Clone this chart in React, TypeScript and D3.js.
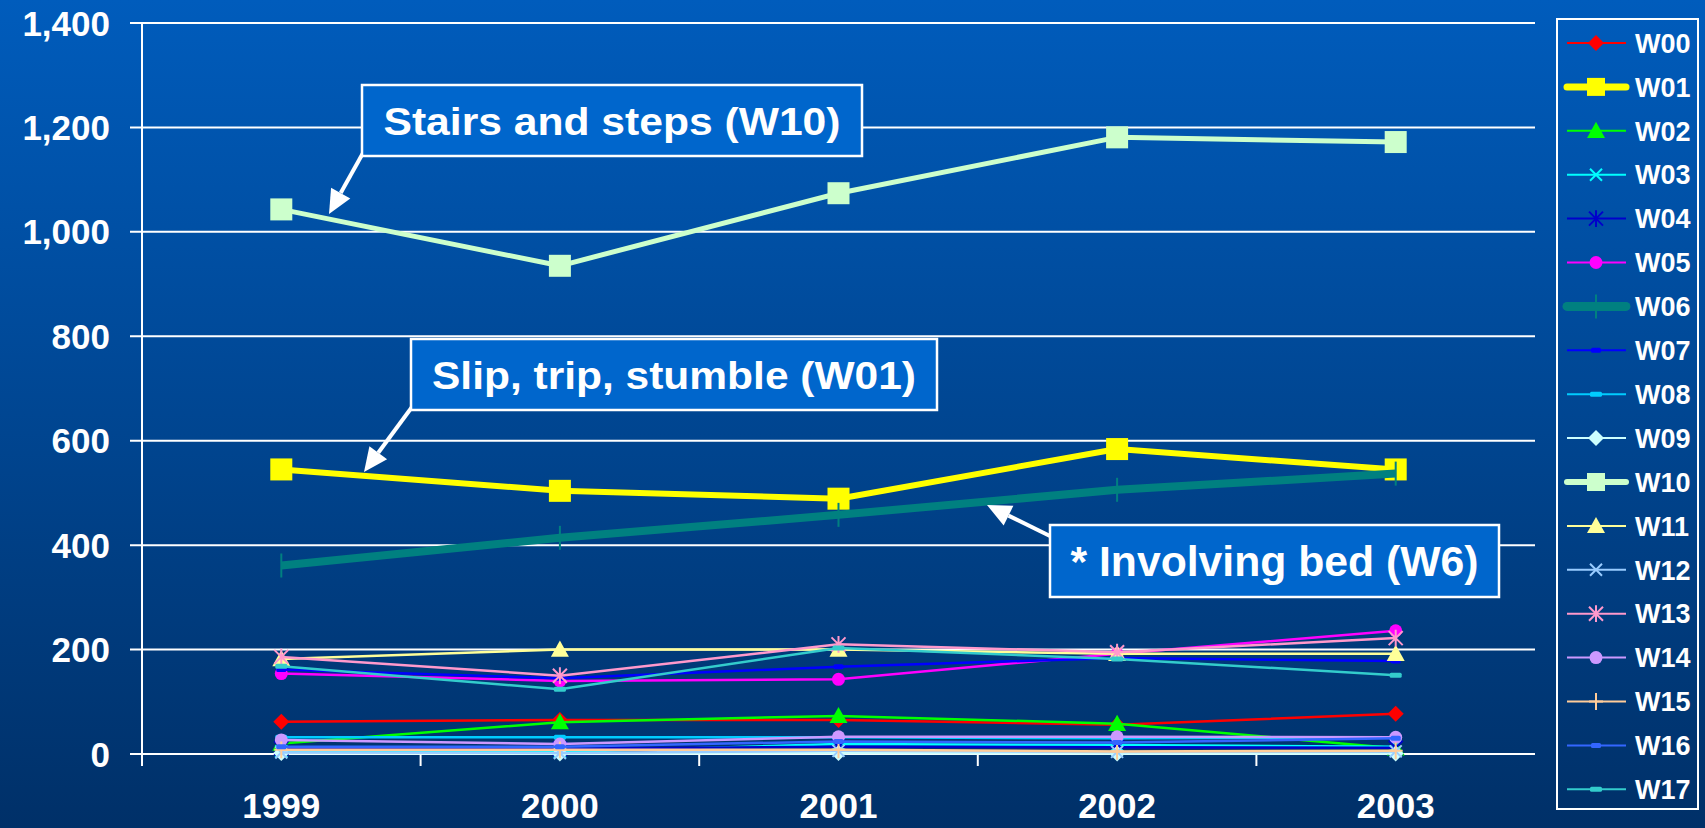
import React from 'react';
import * as d3 from 'd3';

const years = ['1999', '2000', '2001', '2002', '2003'];
const yTicks = [0, 200, 400, 600, 800, 1000, 1200, 1400];

const seriesNames = ['W00', 'W01', 'W02', 'W03', 'W04', 'W05', 'W06', 'W07', 'W08',
  'W09', 'W10', 'W11', 'W12', 'W13', 'W14', 'W15', 'W16', 'W17'];

const w00 = [62, 65, 65, 56, 77];
const w01 = [545, 504, 489, 584, 545];
const w02 = [20, 61, 73, 58, 11];
const w03 = [5, 4, 19, 17, 14];
const w04 = [11, 10, 14, 13, 12];
const w05 = [154, 140, 143, 192, 236];
const w06 = [361, 414, 458, 506, 537];
const w07 = [162, 145, 167, 184, 178];
const w08 = [32, 32, 32, 30, 32];
const w09 = [2, 1, 2, 1, 1];
const w10 = [1043, 935, 1074, 1181, 1172];
const w11 = [182, 200, 200, 192, 192];
const w12 = [3, 2, 6, 4, 5];
const w13 = [186, 150, 210, 195, 222];
const w14 = [27, 19, 33, 33, 32];
const w15 = [8, 8, 8, 5, 6];
const w16 = [14, 14, 24, 22, 30];
const w17 = [168, 124, 203, 182, 151];

const seriesValues = [w00, w01, w02, w03, w04, w05, w06, w07, w08,
  w09, w10, w11, w12, w13, w14, w15, w16, w17];

type Marker = 'diamond' | 'square' | 'triangle' | 'x' | 'star' | 'circle' | 'plus' | 'dash' | 'vtick';
interface Style { color: string; width: number; marker: Marker; size: number; }

const styles: Style[] = [
  { color: '#ff0000', width: 2.5, marker: 'diamond', size: 8 },
  { color: '#ffff00', width: 6, marker: 'square', size: 11 },
  { color: '#00ff00', width: 2.5, marker: 'triangle', size: 9 },
  { color: '#00ffff', width: 2.5, marker: 'x', size: 6 },
  { color: '#0000cc', width: 2.5, marker: 'star', size: 7 },
  { color: '#ff00ff', width: 2.5, marker: 'circle', size: 6.5 },
  { color: '#008080', width: 8, marker: 'vtick', size: 12 },
  { color: '#0000ff', width: 2.5, marker: 'dash', size: 5 },
  { color: '#00ccff', width: 2.5, marker: 'dash', size: 6 },
  { color: '#ccffff', width: 2.5, marker: 'diamond', size: 8 },
  { color: '#ccffcc', width: 5, marker: 'square', size: 11 },
  { color: '#ffff99', width: 2.5, marker: 'triangle', size: 9 },
  { color: '#99ccff', width: 2.5, marker: 'x', size: 6 },
  { color: '#ff99cc', width: 2.5, marker: 'star', size: 7 },
  { color: '#cc99ff', width: 2.5, marker: 'circle', size: 6.5 },
  { color: '#ffcc99', width: 2.5, marker: 'plus', size: 7 },
  { color: '#3366ff', width: 2.5, marker: 'dash', size: 5 },
  { color: '#33cccc', width: 2.5, marker: 'dash', size: 6 },
];

const W = 1705;
const H = 828;
const FONT = '"Liberation Sans", Arial, sans-serif';

const x = d3.scaleBand<string>().domain(years).range([142, 1535]);
const y = d3.scaleLinear().domain([0, 1400]).range([754, 23]);

const MarkerShape: React.FC<{ s: Style; cx: number; cy: number }> = ({ s, cx, cy }) => {
  const r = s.size;
  const c = s.color;
  switch (s.marker) {
    case 'diamond':
      return <path d={`M${cx},${cy - r}L${cx + r},${cy}L${cx},${cy + r}L${cx - r},${cy}Z`} fill={c} />;
    case 'square':
      return <rect x={cx - r} y={cy - r} width={2 * r} height={2 * r} fill={c} />;
    case 'triangle':
      return <path d={`M${cx},${cy - r}L${cx + r},${cy + r * 0.8}L${cx - r},${cy + r * 0.8}Z`} fill={c} />;
    case 'circle':
      return <circle cx={cx} cy={cy} r={r} fill={c} />;
    case 'x':
      return <path d={`M${cx - r},${cy - r}L${cx + r},${cy + r}M${cx - r},${cy + r}L${cx + r},${cy - r}`} stroke={c} strokeWidth={2} />;
    case 'star':
      return <path d={`M${cx - r},${cy - r}L${cx + r},${cy + r}M${cx - r},${cy + r}L${cx + r},${cy - r}M${cx},${cy - r * 1.2}L${cx},${cy + r * 1.2}`} stroke={c} strokeWidth={2} />;
    case 'plus':
      return <path d={`M${cx - r},${cy}L${cx + r},${cy}M${cx},${cy - r * 1.2}L${cx},${cy + r * 1.2}`} stroke={c} strokeWidth={2} />;
    case 'vtick':
      return <path d={`M${cx},${cy - r}L${cx},${cy + r}`} stroke={c} strokeWidth={2} />;
    case 'dash':
      return <rect x={cx - r} y={cy - 2.5} width={2 * r} height={5} rx={1.5} fill={c} />;
  }
  return null;
};

const Callout: React.FC<{ bx: number; by: number; bw: number; bh: number; text: string; tw: number; fs: number;
  ax1: number; ay1: number; ax2: number; ay2: number }> = (p) => {
  const ang = Math.atan2(p.ay2 - p.ay1, p.ax2 - p.ax1);
  const len = 24;
  const half = 11;
  const bx0 = p.ax2 - len * Math.cos(ang);
  const by0 = p.ay2 - len * Math.sin(ang);
  const px = -Math.sin(ang) * half;
  const py = Math.cos(ang) * half;
  return (
    <g>
      <line x1={p.ax1} y1={p.ay1} x2={bx0} y2={by0} stroke="#fff" strokeWidth={4} />
      <path d={`M${p.ax2},${p.ay2}L${bx0 + px},${by0 + py}L${bx0 - px},${by0 - py}Z`} fill="#fff" />
      <rect x={p.bx} y={p.by} width={p.bw} height={p.bh} fill="#0066cc" stroke="#fff" strokeWidth={2.5} />
      <text x={p.bx + p.bw / 2} y={p.by + p.bh / 2} dy="0.36em" textAnchor="middle" fill="#fff"
        fontFamily={FONT} fontWeight="bold" fontSize={p.fs} textLength={p.tw} lengthAdjust="spacingAndGlyphs">
        {p.text}
      </text>
    </g>
  );
};

const App: React.FC = () => {
  const line = d3.line<number>()
    .x((_d: number, i: number) => (x(years[i]) as number) + x.bandwidth() / 2)
    .y((d: number) => y(d));
  const cx = (i: number) => (x(years[i]) as number) + x.bandwidth() / 2;
  const [x0, x1] = x.range();

  return (
    <svg width={W} height={H} style={{ position: 'absolute', left: 0, top: 0, display: 'block' }}>
      <defs>
        <linearGradient id="bg" x1="0" y1="0" x2="0" y2="1">
          <stop offset="0" stopColor="#005cbc" />
          <stop offset="1" stopColor="#003068" />
        </linearGradient>
      </defs>
      <rect width={W} height={H} fill="url(#bg)" />

      {/* grid and y axis */}
      {yTicks.map((t) => (
        <g key={t}>
          <line x1={x0 - 12} x2={x1} y1={y(t)} y2={y(t)} stroke="#fff" strokeWidth={2} />
          <text x={110} y={y(t)} dy="0.36em" textAnchor="end" fill="#fff" fontFamily={FONT}
            fontWeight="bold" fontSize={35}>{d3.format(',')(t)}</text>
        </g>
      ))}
      <line x1={x0} x2={x0} y1={y(1400)} y2={766} stroke="#fff" strokeWidth={2} />
      {years.map((yr, i) => (
        <g key={yr}>
          {i > 0 && <line x1={x(yr)} x2={x(yr)} y1={754} y2={766} stroke="#fff" strokeWidth={2} />}
          <text x={cx(i)} y={805} dy="0.36em" textAnchor="middle" fill="#fff" fontFamily={FONT}
            fontWeight="bold" fontSize={35}>{yr}</text>
        </g>
      ))}

      {/* series */}
      {seriesValues.map((vals, si) => (
        <g key={seriesNames[si]}>
          <path d={line(vals) || ''} fill="none" stroke={styles[si].color} strokeWidth={styles[si].width}
            strokeLinejoin="round" />
          {vals.map((v, i) => <MarkerShape key={i} s={styles[si]} cx={cx(i)} cy={y(v)} />)}
        </g>
      ))}

      {/* callouts */}
      <Callout bx={362} by={85} bw={500} bh={71} text="Stairs and steps (W10)" tw={457} fs={39}
        ax1={363} ay1={153} ax2={329} ay2={214} />
      <Callout bx={411} by={339} bw={526} bh={71} text="Slip, trip, stumble (W01)" tw={484} fs={39}
        ax1={412} ay1={407} ax2={364} ay2={472} />
      <Callout bx={1050} by={525} bw={449} bh={72} text="* Involving bed (W6)" tw={408} fs={43}
        ax1={1052} ay1={537} ax2={987} ay2={505} />

      {/* legend */}
      <rect x={1557} y={19} width={141} height={790} fill="none" stroke="#fff" strokeWidth={2} />
      {seriesNames.map((n, i) => {
        const ly = 43 + i * 43.9;
        const s = styles[i];
        const thick = s.width > 4;
        return (
          <g key={n}>
            <line x1={1567} x2={1626} y1={ly} y2={ly} stroke={s.color} strokeWidth={thick ? s.width + 1 : 2}
              strokeLinecap={thick ? 'round' : 'butt'} />
            <MarkerShape s={{ ...s, size: s.marker === 'square' ? 9 : s.size }} cx={1596} cy={ly} />
            <text x={1635} y={ly} dy="0.36em" fill="#fff" fontFamily={FONT} fontWeight="bold" fontSize={27}>{n}</text>
          </g>
        );
      })}
    </svg>
  );
};

export default App;
